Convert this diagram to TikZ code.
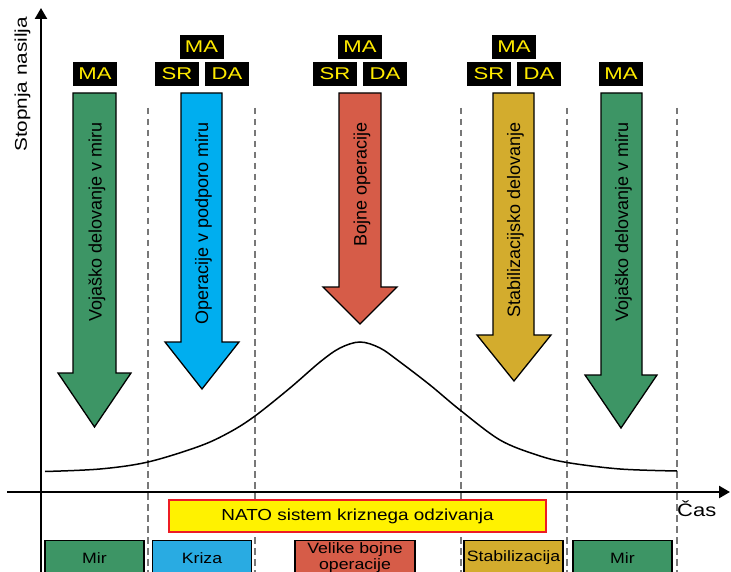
\documentclass[tikz,border=0pt]{standalone}
\usepackage{fontspec}
\setmainfont{Liberation Sans}
\newfontfamily\wideA[FakeStretch=1.3]{Liberation Sans}
\newfontfamily\wideB[FakeStretch=1.18]{Liberation Sans}
\newfontfamily\wideC[FakeStretch=1.22]{Liberation Sans}
\usetikzlibrary{arrows.meta}
\definecolor{armygreen}{RGB}{61,149,101}
\definecolor{skyblue}{RGB}{0,174,239}
\definecolor{brickred}{RGB}{214,92,72}
\definecolor{goldcol}{RGB}{211,172,45}
\definecolor{krizablue}{RGB}{41,171,226}
\definecolor{labyellow}{RGB}{255,235,0}
\definecolor{natoyellow}{RGB}{255,242,0}
\definecolor{natored}{RGB}{237,28,36}
\definecolor{dashgray}{RGB}{120,120,120}
\tikzset{
  lbl/.style={fill=black,text=labyellow,inner sep=0pt,minimum width=44pt,minimum height=24pt,font=\wideA\fontsize{17}{17}\selectfont},
  bigarrow/.style={draw=black,line width=1.3pt,line join=miter},
  arrowtext/.style={rotate=90,anchor=base east,inner sep=0pt,font=\fontsize{18}{18}\selectfont},
  phasebox/.style={draw=black,line width=1.4pt,inner sep=0pt,minimum width=99pt,minimum height=34pt,anchor=north,align=center,font=\wideB\fontsize{15}{15.5}\selectfont},
  phaseline/.style={draw=dashgray,line width=1.6pt,dash pattern=on 6.5pt off 4.5pt},
  axisline/.style={line width=2.4pt,-{Triangle[length=11pt,width=12pt]}}
}
\begin{document}
\begin{tikzpicture}[x=1pt,y=-1pt]
\clip (0,0) rectangle (731,572);
\fill[white] (0,0) rectangle (731,572);

% phase separators
\foreach \xx in {148,255,461,567,677}
  \draw[phaseline] (\xx,108) -- (\xx,575);

% axes
\draw[axisline] (41,575) -- (41,8);
\draw[axisline] (7,492) -- (730,492);
\node[rotate=90,anchor=base west,inner sep=0pt,font=\wideC\fontsize{17}{17}\selectfont] (ylab) at (27,152) {Stopnja nasilja};
\node[anchor=base west,inner sep=0pt,font=\wideC\fontsize{18}{18}\selectfont] (xlab) at (677,516.5) {Čas};

% violence curve
\draw[line width=1.5pt] plot[smooth,tension=0.55] coordinates {
 (45,471.5) (100,469) (148,462) (200,446) (230,432) (255,416) (290,388)
 (320,362) (340,348) (360,342) (380,348) (400,362) (430,385) (460,410)
 (500,440) (537,455) (567,462.5) (620,469) (677,471)};

% big arrows
\fill[armygreen] (73,93) -- (116,93) -- (116,373) -- (131,373) -- (94.5,427) -- (58,373) -- (73,373) -- cycle;
\draw[bigarrow] (73,93) -- (116,93) -- (116,373) -- (131,373) -- (94.5,427) -- (58,373) -- (73,373) -- cycle;
\node[arrowtext] (t1) at (101.5,122) {Vojaško delovanje v miru};

\fill[skyblue] (181,93) -- (222,93) -- (222,342) -- (239,342) -- (202,389) -- (165,342) -- (181,342) -- cycle;
\draw[bigarrow] (181,93) -- (222,93) -- (222,342) -- (239,342) -- (202,389) -- (165,342) -- (181,342) -- cycle;
\node[arrowtext] (t2) at (208,122) {Operacije v podporo miru};

\fill[brickred] (339,93) -- (381,93) -- (381,287) -- (397,287) -- (360,324) -- (323,287) -- (339,287) -- cycle;
\draw[bigarrow] (339,93) -- (381,93) -- (381,287) -- (397,287) -- (360,324) -- (323,287) -- (339,287) -- cycle;
\node[arrowtext] (t3) at (366.5,122) {Bojne operacije};

\fill[goldcol] (493,93) -- (534,93) -- (534,335) -- (551,335) -- (514,381) -- (477,335) -- (493,335) -- cycle;
\draw[bigarrow] (493,93) -- (534,93) -- (534,335) -- (551,335) -- (514,381) -- (477,335) -- (493,335) -- cycle;
\node[arrowtext] (t4) at (520,122) {Stabilizacijsko delovanje};

\fill[armygreen] (601,93) -- (642,93) -- (642,375) -- (657,375) -- (621,428) -- (585,375) -- (601,375) -- cycle;
\draw[bigarrow] (601,93) -- (642,93) -- (642,375) -- (657,375) -- (621,428) -- (585,375) -- (601,375) -- cycle;
\node[arrowtext] (t5) at (628,122) {Vojaško delovanje v miru};

% labels
\node[lbl] (ma1) at (95,74) {MA};
\node[lbl] (ma2) at (201.5,47) {MA};
\node[lbl] (sr2) at (177,74) {SR};
\node[lbl] (da2) at (227,74) {DA};
\node[lbl] (ma3) at (360,47) {MA};
\node[lbl] (sr3) at (335,74) {SR};
\node[lbl] (da3) at (385,74) {DA};
\node[lbl] (ma4) at (514,47) {MA};
\node[lbl] (sr4) at (489,74) {SR};
\node[lbl] (da4) at (539,74) {DA};
\node[lbl] (ma5) at (621,74) {MA};

% NATO response system
\node[draw=natored,fill=natoyellow,line width=1.5pt,minimum width=377pt,minimum height=32pt,inner sep=0pt,font=\wideB\fontsize{16}{16}\selectfont] (nato) at (357.5,516) {NATO sistem kriznega odzivanja};

% phases
\node[phasebox,fill=armygreen] (p1) at (94.5,540) {Mir};
\node[phasebox,fill=krizablue] (p2) at (202,540) {Kriza};
\node[phasebox,fill=brickred,minimum width=120pt] (p3) at (355,540) {Velike bojne\\operacije};
\node[phasebox,fill=goldcol] (p4) at (513.5,540) {Stabilizacija};
\node[phasebox,fill=armygreen] (p5) at (622.5,540) {Mir};
\end{tikzpicture}
\end{document}
